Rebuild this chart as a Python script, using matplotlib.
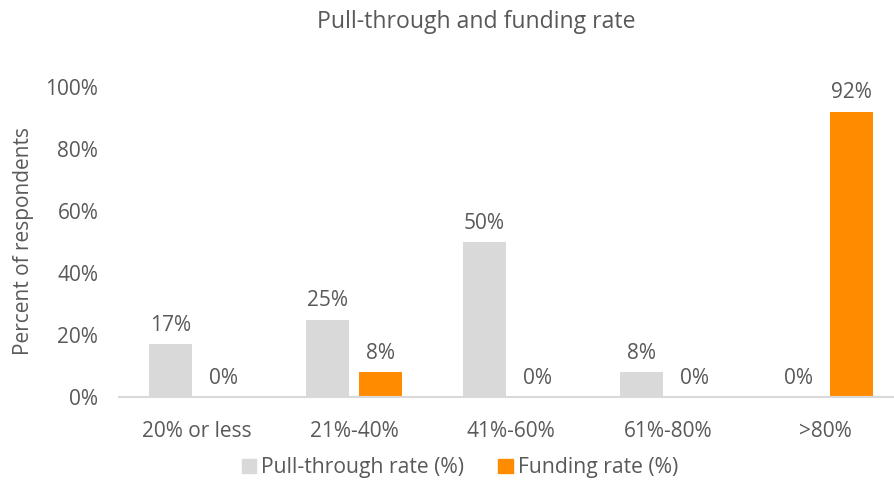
import matplotlib
matplotlib.use('Agg')
import matplotlib.pyplot as plt
import numpy as np
from matplotlib.patches import Patch

categories = ['20% or less', '21%-40%', '41%-60%', '61%-80%', '>80%']
pull_through = [17, 25, 50, 8, 0]
funding = [0, 8, 0, 0, 92]
yticks = [0, 20, 40, 60, 80, 100]

GRAY = '#D9D9D9'
ORANGE = '#FF8C00'
TEXT = '#595959'

plt.rcParams['font.family'] = ['Open Sans', 'DejaVu Sans']
plt.rcParams['font.size'] = 15

fig = plt.figure(figsize=(8.94, 4.84), dpi=100)
ax = fig.add_axes([118.5 / 894, 87 / 484, 785 / 894, 310 / 484])

x = np.arange(len(categories))
w = 0.27
b1 = ax.bar(x - 0.17, pull_through, w, color=GRAY)
b2 = ax.bar(x + 0.17, funding, w, color=ORANGE)
for bars in (b1, b2):
    ax.bar_label(bars, labels=[f'{v:.0f}%' for v in bars.datavalues],
                 padding=6, color=TEXT, fontsize=15)

ax.set_xlim(-0.5, len(categories) - 0.5)
ax.set_ylim(0, 100)
ax.set_yticks(yticks)
ax.set_yticklabels([f'{t}%' for t in yticks])
ax.set_xticks(x)
ax.set_xticklabels(categories)
ax.tick_params(length=0, colors=TEXT, labelsize=15)
ax.tick_params(axis='y', pad=14.5)
ax.tick_params(axis='x', pad=17)
for s in ('top', 'right', 'left'):
    ax.spines[s].set_visible(False)
ax.spines['bottom'].set_color(GRAY)
ax.spines['bottom'].set_linewidth(1.5)

fig.text(24 / 894, 1 - 241 / 484, 'Percent of respondents', rotation=90,
         ha='center', va='center', color=TEXT, fontsize=15)
fig.text(476 / 894, 1 - 22 / 484, 'Pull-through and funding rate',
         ha='center', va='center', color=TEXT, fontsize=16.6)

handles = [Patch(color=GRAY), Patch(color=ORANGE)]
fig.legend(handles, ['Pull-through rate (%)', 'Funding rate (%)'],
           loc='center', bbox_to_anchor=(460 / 894, 1 - 468 / 484), ncol=2,
           frameon=False, handlelength=0.68, handleheight=0.68,
           handletextpad=0.25, columnspacing=1.6, labelcolor=TEXT, fontsize=15.2)

fig.savefig('out.png', dpi=100)
